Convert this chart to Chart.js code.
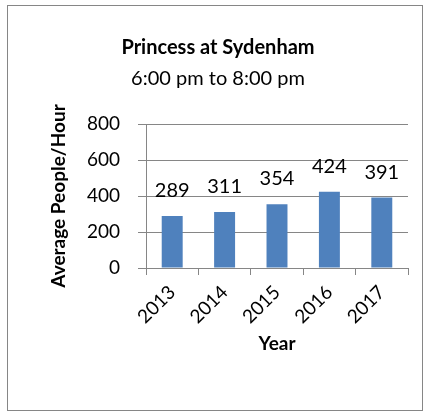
<!DOCTYPE html>
<html>
<head>
<meta charset="utf-8">
<title>Princess at Sydenham</title>
<script src="https://cdn.jsdelivr.net/npm/chart.js@4/dist/chart.umd.min.js"></script>
<style>
    html, body { margin: 0; padding: 0; background: #fff; }
    #wrap { position: relative; width: 432px; height: 417px; overflow: hidden; }
</style>
</head>
<body>
<div id="wrap"><canvas id="busChart" width="432" height="417"></canvas></div>
<script>
(function () {
    "use strict";

    // values
    const years = ['2013', '2014', '2015', '2016', '2017'];
    const avgPeople = [289, 311, 354, 424, 391];
    const yTicks = [0, 200, 400, 600, 800];

    const titleText = 'Princess at Sydenham';
    const subtitleText = '6:00 pm to 8:00 pm';
    const xTitle = 'Year';
    const yTitle = 'Average People/Hour';

    const FONT = 'Lato';
    const GREY = '#868686';
    const BAR = '#4F81BD';

    Chart.defaults.font.family = FONT;
    Chart.defaults.color = '#000';

    // chart frame + value labels above the bars
    const excelBits = {
        id: 'excelBits',
        beforeDraw(chart) {
            const ctx = chart.ctx;
            ctx.save();
            ctx.strokeStyle = GREY;
            ctx.lineWidth = 1;
            ctx.strokeRect(7.5, 5.5, 415, 405);
            ctx.restore();
        },
        afterDatasetsDraw(chart) {
            const ctx = chart.ctx;
            const ds = chart.data.datasets[0];
            ctx.save();
            ctx.font = '20px ' + FONT;
            ctx.fillStyle = '#000';
            ctx.textAlign = 'center';
            ctx.textBaseline = 'alphabetic';
            chart.getDatasetMeta(0).data.forEach((bar, i) => {
                ctx.fillText(String(ds.data[i]), bar.x, bar.y - 19);
            });
            ctx.restore();
        }
    };

    new Chart(document.getElementById('busChart'), {
        type: 'bar',
        data: {
            labels: years,
            datasets: [{
                label: yTitle,
                data: avgPeople,
                backgroundColor: BAR,
                borderWidth: 0,
                barPercentage: 0.4,
                categoryPercentage: 1
            }]
        },
        options: {
            responsive: false,
            animation: false,
            devicePixelRatio: 1,
            layout: {
                padding: { left: 28, right: 24, top: 0, bottom: 0 }
            },
            plugins: {
                legend: { display: false },
                tooltip: { enabled: false },
                title: {
                    display: true,
                    text: titleText,
                    color: '#000',
                    font: { size: 20, weight: 'bold', lineHeight: 1.2 },
                    padding: { top: 36, bottom: 0 }
                },
                subtitle: {
                    display: true,
                    text: subtitleText,
                    color: '#000',
                    font: { size: 20, lineHeight: 1.2 },
                    padding: { top: 7, bottom: 33 }
                }
            },
            scales: {
                x: {
                    afterFit: (scale) => { scale.height = 149; },
                    grid: {
                        drawOnChartArea: false,
                        drawTicks: true,
                        tickLength: 7,
                        color: GREY
                    },
                    border: { color: GREY },
                    ticks: {
                        autoSkip: false,
                        minRotation: 45,
                        maxRotation: 45,
                        padding: 6,
                        font: { size: 19 }
                    },
                    title: {
                        display: true,
                        text: xTitle,
                        font: { size: 19, weight: 'bold', lineHeight: 1.2 },
                        padding: { top: 0, bottom: 62 }
                    }
                },
                y: {
                    afterFit: (scale) => { scale.width = 118; },
                    min: yTicks[0],
                    max: yTicks[yTicks.length - 1],
                    grid: {
                        color: GREY,
                        drawTicks: true,
                        tickLength: 8
                    },
                    border: { color: GREY },
                    ticks: {
                        stepSize: yTicks[1] - yTicks[0],
                        padding: 18,
                        font: { size: 19 }
                    },
                    title: {
                        display: true,
                        text: yTitle,
                        font: { size: 19, weight: 'bold', lineHeight: 1.2 },
                        padding: { top: 19, bottom: 0 }
                    }
                }
            }
        },
        plugins: [excelBits]
    });
})();
</script>
</body>
</html>
